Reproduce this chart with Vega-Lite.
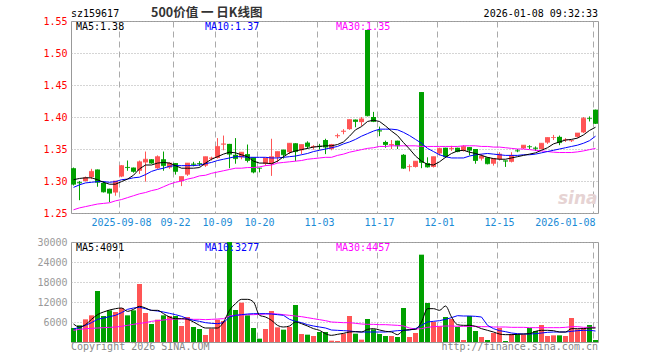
{
 "$schema": "https://vega.github.io/schema/vega-lite/v6.json",
 "background": "white",
 "padding": {"left": 36, "top": 6, "right": 0, "bottom": 0},
 "spacing": 8,
 "config": {
  "view": {"stroke": "#999999", "strokeWidth": 1},
  "axis": {"labelFont": "DejaVu Sans Mono", "labelFontSize": 10, "ticks": false, "domain": false, "title": null, "labelOverlap": false},
  "text": {"font": "DejaVu Sans Mono", "fontSize": 10}
 },
 "datasets": {
  "k": [
{"d":"2025-08-27","o":1.320,"h":1.321,"l":1.293,"c":1.295,"m5":1.302,"m10":1.290,"m30":1.255,"v":4200,"v5":5400,"v10":3900,"v30":3500},
{"d":"2025-08-28","o":1.298,"h":1.300,"l":1.270,"c":1.297,"m5":1.304,"m10":1.294,"m30":1.258,"v":5000,"v5":4500,"v10":4400,"v30":3800},
{"d":"2025-08-29","o":1.300,"h":1.307,"l":1.299,"c":1.305,"m5":1.305,"m10":1.297,"m30":1.260,"v":6800,"v5":5200,"v10":5000,"v30":4000},
{"d":"2025-09-01","o":1.306,"h":1.319,"l":1.303,"c":1.315,"m5":1.305,"m10":1.298,"m30":1.262,"v":8000,"v5":6800,"v10":5800,"v30":4100},
{"d":"2025-09-02","o":1.318,"h":1.318,"l":1.291,"c":1.298,"m5":1.302,"m10":1.299,"m30":1.264,"v":15300,"v5":8200,"v10":6800,"v30":4200},
{"d":"2025-09-03","o":1.297,"h":1.300,"l":1.282,"c":1.283,"m5":1.298,"m10":1.299,"m30":1.265,"v":7800,"v5":9000,"v10":7200,"v30":4300},
{"d":"2025-09-04","o":1.288,"h":1.288,"l":1.267,"c":1.281,"m5":1.295,"m10":1.298,"m30":1.266,"v":9500,"v5":9600,"v10":7600,"v30":4400},
{"d":"2025-09-05","o":1.282,"h":1.300,"l":1.277,"c":1.300,"m5":1.295,"m10":1.299,"m30":1.269,"v":9000,"v5":10000,"v10":8000,"v30":4500},
{"d":"2025-09-08","o":1.307,"h":1.325,"l":1.306,"c":1.324,"m5":1.299,"m10":1.302,"m30":1.271,"v":10200,"v5":10200,"v10":8800,"v30":4700},
{"d":"2025-09-09","o":1.322,"h":1.332,"l":1.316,"c":1.321,"m5":1.303,"m10":1.303,"m30":1.274,"v":8000,"v5":9200,"v10":9800,"v30":5000},
{"d":"2025-09-10","o":1.321,"h":1.321,"l":1.313,"c":1.315,"m5":1.309,"m10":1.305,"m30":1.277,"v":9500,"v5":9800,"v10":10200,"v30":5300},
{"d":"2025-09-11","o":1.316,"h":1.332,"l":1.311,"c":1.330,"m5":1.319,"m10":1.306,"m30":1.280,"v":17400,"v5":10700,"v10":10400,"v30":5600},
{"d":"2025-09-12","o":1.329,"h":1.346,"l":1.299,"c":1.334,"m5":1.325,"m10":1.310,"m30":1.282,"v":8700,"v5":10200,"v10":10000,"v30":5800},
{"d":"2025-09-15","o":1.334,"h":1.334,"l":1.327,"c":1.328,"m5":1.325,"m10":1.315,"m30":1.285,"v":5400,"v5":9500,"v10":9500,"v30":6200},
{"d":"2025-09-16","o":1.320,"h":1.340,"l":1.319,"c":1.338,"m5":1.328,"m10":1.318,"m30":1.287,"v":6700,"v5":9500,"v10":9300,"v30":6400},
{"d":"2025-09-17","o":1.334,"h":1.346,"l":1.316,"c":1.324,"m5":1.329,"m10":1.320,"m30":1.291,"v":8000,"v5":8500,"v10":9000,"v30":6600},
{"d":"2025-09-18","o":1.321,"h":1.329,"l":1.319,"c":1.328,"m5":1.328,"m10":1.323,"m30":1.295,"v":7800,"v5":7500,"v10":8600,"v30":6800},
{"d":"2025-09-22","o":1.328,"h":1.328,"l":1.310,"c":1.315,"m5":1.324,"m10":1.324,"m30":1.298,"v":7800,"v5":7000,"v10":8200,"v30":6900},
{"d":"2025-09-23","o":1.300,"h":1.307,"l":1.292,"c":1.307,"m5":1.320,"m10":1.324,"m30":1.300,"v":4800,"v5":7000,"v10":7700,"v30":6900},
{"d":"2025-09-24","o":1.310,"h":1.328,"l":1.308,"c":1.328,"m5":1.320,"m10":1.324,"m30":1.303,"v":7500,"v5":6800,"v10":7000,"v30":6900},
{"d":"2025-09-25","o":1.327,"h":1.330,"l":1.323,"c":1.326,"m5":1.320,"m10":1.324,"m30":1.305,"v":4500,"v5":6000,"v10":6500,"v30":6800},
{"d":"2025-09-26","o":1.328,"h":1.331,"l":1.323,"c":1.327,"m5":1.321,"m10":1.325,"m30":1.308,"v":3900,"v5":5000,"v10":6200,"v30":6800},
{"d":"2025-09-29","o":1.324,"h":1.338,"l":1.322,"c":1.338,"m5":1.328,"m10":1.327,"m30":1.309,"v":2100,"v5":4200,"v10":5800,"v30":6700},
{"d":"2025-09-30","o":1.335,"h":1.338,"l":1.332,"c":1.336,"m5":1.334,"m10":1.329,"m30":1.312,"v":4000,"v5":4200,"v10":5600,"v30":6800},
{"d":"2025-10-09","o":1.336,"h":1.367,"l":1.335,"c":1.354,"m5":1.338,"m10":1.332,"m30":1.314,"v":6700,"v5":4200,"v10":5500,"v30":6900},
{"d":"2025-10-10","o":1.357,"h":1.371,"l":1.348,"c":1.358,"m5":1.342,"m10":1.334,"m30":1.316,"v":6300,"v5":6000,"v10":5800,"v30":7000},
{"d":"2025-10-13","o":1.358,"h":1.358,"l":1.320,"c":1.342,"m5":1.345,"m10":1.336,"m30":1.318,"v":30000,"v5":9500,"v10":7500,"v30":7800},
{"d":"2025-10-14","o":1.341,"h":1.367,"l":1.327,"c":1.335,"m5":1.344,"m10":1.338,"m30":1.320,"v":9600,"v5":11500,"v10":8000,"v30":8000},
{"d":"2025-10-15","o":1.337,"h":1.345,"l":1.334,"c":1.345,"m5":1.341,"m10":1.338,"m30":1.320,"v":11800,"v5":12800,"v10":8200,"v30":8100},
{"d":"2025-10-16","o":1.342,"h":1.357,"l":1.329,"c":1.332,"m5":1.338,"m10":1.337,"m30":1.321,"v":8000,"v5":12800,"v10":8400,"v30":8200},
{"d":"2025-10-17","o":1.337,"h":1.337,"l":1.312,"c":1.314,"m5":1.331,"m10":1.337,"m30":1.321,"v":4200,"v5":12000,"v10":8500,"v30":8200},
{"d":"2025-10-20","o":1.3205,"h":1.3205,"l":1.3135,"c":1.320,"m5":1.328,"m10":1.337,"m30":1.322,"v":1000,"v5":8000,"v10":8500,"v30":8300},
{"d":"2025-10-21","o":1.327,"h":1.336,"l":1.324,"c":1.336,"m5":1.328,"m10":1.337,"m30":1.324,"v":3900,"v5":7500,"v10":8500,"v30":8400},
{"d":"2025-10-22","o":1.327,"h":1.366,"l":1.308,"c":1.338,"m5":1.327,"m10":1.336,"m30":1.325,"v":9300,"v5":6500,"v10":8400,"v30":8500},
{"d":"2025-10-23","o":1.337,"h":1.346,"l":1.329,"c":1.346,"m5":1.331,"m10":1.336,"m30":1.328,"v":4400,"v5":5000,"v10":8200,"v30":8400},
{"d":"2025-10-24","o":1.349,"h":1.349,"l":1.335,"c":1.341,"m5":1.338,"m10":1.337,"m30":1.329,"v":3700,"v5":4500,"v10":8000,"v30":8200},
{"d":"2025-10-27","o":1.345,"h":1.359,"l":1.342,"c":1.359,"m5":1.344,"m10":1.338,"m30":1.330,"v":4500,"v5":4800,"v10":6800,"v30":8000},
{"d":"2025-10-28","o":1.359,"h":1.359,"l":1.331,"c":1.346,"m5":1.347,"m10":1.339,"m30":1.331,"v":11100,"v5":6000,"v10":6200,"v30":7800},
{"d":"2025-10-29","o":1.348,"h":1.357,"l":1.342,"c":1.357,"m5":1.349,"m10":1.341,"m30":1.332,"v":2400,"v5":5500,"v10":5800,"v30":7600},
{"d":"2025-10-30","o":1.360,"h":1.362,"l":1.350,"c":1.354,"m5":1.351,"m10":1.343,"m30":1.334,"v":2200,"v5":4800,"v10":5200,"v30":7300},
{"d":"2025-10-31","o":1.353,"h":1.356,"l":1.349,"c":1.354,"m5":1.353,"m10":1.346,"m30":1.335,"v":1800,"v5":4000,"v10":4800,"v30":7000},
{"d":"2025-11-03","o":1.355,"h":1.358,"l":1.349,"c":1.354,"m5":1.354,"m10":1.348,"m30":1.336,"v":3000,"v5":3500,"v10":4500,"v30":6700},
{"d":"2025-11-04","o":1.364,"h":1.366,"l":1.342,"c":1.353,"m5":1.355,"m10":1.350,"m30":1.337,"v":3000,"v5":2500,"v10":4200,"v30":6400},
{"d":"2025-11-05","o":1.350,"h":1.358,"l":1.348,"c":1.357,"m5":1.355,"m10":1.352,"m30":1.337,"v":400,"v5":2000,"v10":3600,"v30":6000},
{"d":"2025-11-06","o":1.370,"h":1.374,"l":1.367,"c":1.371,"m5":1.357,"m10":1.354,"m30":1.340,"v":300,"v5":2300,"v10":3500,"v30":5900},
{"d":"2025-11-07","o":1.377,"h":1.381,"l":1.373,"c":1.378,"m5":1.361,"m10":1.358,"m30":1.342,"v":2500,"v5":2600,"v10":3400,"v30":5800},
{"d":"2025-11-10","o":1.381,"h":1.396,"l":1.380,"c":1.396,"m5":1.370,"m10":1.361,"m30":1.345,"v":7800,"v5":3000,"v10":3300,"v30":5800},
{"d":"2025-11-11","o":1.396,"h":1.396,"l":1.384,"c":1.393,"m5":1.380,"m10":1.365,"m30":1.347,"v":2500,"v5":3100,"v10":3100,"v30":5600},
{"d":"2025-11-12","o":1.392,"h":1.400,"l":1.386,"c":1.397,"m5":1.385,"m10":1.370,"m30":1.349,"v":700,"v5":3000,"v10":3000,"v30":5400},
{"d":"2025-11-13","o":1.536,"h":1.536,"l":1.401,"c":1.402,"m5":1.393,"m10":1.374,"m30":1.351,"v":6900,"v5":3800,"v10":3000,"v30":5300},
{"d":"2025-11-14","o":1.400,"h":1.408,"l":1.392,"c":1.393,"m5":1.395,"m10":1.378,"m30":1.352,"v":3800,"v5":4000,"v10":3000,"v30":5300},
{"d":"2025-11-17","o":1.379,"h":1.385,"l":1.370,"c":1.378,"m5":1.393,"m10":1.381,"m30":1.354,"v":2400,"v5":3600,"v10":3000,"v30":5200},
{"d":"2025-11-18","o":1.361,"h":1.363,"l":1.352,"c":1.357,"m5":1.386,"m10":1.381,"m30":1.354,"v":1800,"v5":3200,"v10":3000,"v30":5200},
{"d":"2025-11-19","o":1.356,"h":1.364,"l":1.350,"c":1.357,"m5":1.378,"m10":1.381,"m30":1.355,"v":1800,"v5":3000,"v10":3200,"v30":5100},
{"d":"2025-11-20","o":1.363,"h":1.363,"l":1.350,"c":1.355,"m5":1.371,"m10":1.380,"m30":1.355,"v":1500,"v5":2200,"v10":3400,"v30":5000},
{"d":"2025-11-21","o":1.341,"h":1.342,"l":1.319,"c":1.320,"m5":1.360,"m10":1.376,"m30":1.355,"v":10200,"v5":3500,"v10":3500,"v30":4800},
{"d":"2025-11-24","o":1.322,"h":1.326,"l":1.315,"c":1.3225,"m5":1.350,"m10":1.371,"m30":1.355,"v":1500,"v5":3700,"v10":3600,"v30":4200},
{"d":"2025-11-25","o":1.322,"h":1.331,"l":1.321,"c":1.331,"m5":1.339,"m10":1.365,"m30":1.355,"v":2700,"v5":3800,"v10":4000,"v30":3900},
{"d":"2025-11-26","o":1.439,"h":1.439,"l":1.320,"c":1.329,"m5":1.331,"m10":1.359,"m30":1.354,"v":26200,"v5":6000,"v10":5000,"v30":4000},
{"d":"2025-11-27","o":1.328,"h":1.337,"l":1.321,"c":1.322,"m5":1.326,"m10":1.351,"m30":1.354,"v":11700,"v5":10000,"v10":6000,"v30":4400},
{"d":"2025-11-28","o":1.322,"h":1.338,"l":1.321,"c":1.338,"m5":1.325,"m10":1.346,"m30":1.354,"v":6000,"v5":10000,"v10":6200,"v30":4600},
{"d":"2025-12-01","o":1.343,"h":1.352,"l":1.340,"c":1.351,"m5":1.330,"m10":1.341,"m30":1.354,"v":4700,"v5":9500,"v10":6400,"v30":4700},
{"d":"2025-12-02","o":1.352,"h":1.352,"l":1.336,"c":1.338,"m5":1.337,"m10":1.338,"m30":1.354,"v":7500,"v5":10800,"v10":6800,"v30":4800},
{"d":"2025-12-03","o":1.350,"h":1.355,"l":1.347,"c":1.351,"m5":1.343,"m10":1.336,"m30":1.354,"v":6900,"v5":7500,"v10":7300,"v30":4800},
{"d":"2025-12-04","o":1.352,"h":1.352,"l":1.345,"c":1.346,"m5":1.347,"m10":1.336,"m30":1.354,"v":4500,"v5":5200,"v10":7900,"v30":4700},
{"d":"2025-12-05","o":1.347,"h":1.356,"l":1.346,"c":1.354,"m5":1.348,"m10":1.336,"m30":1.355,"v":600,"v5":5000,"v10":7800,"v30":4700},
{"d":"2025-12-08","o":1.353,"h":1.353,"l":1.340,"c":1.348,"m5":1.345,"m10":1.339,"m30":1.355,"v":7800,"v5":5000,"v10":7800,"v30":4700},
{"d":"2025-12-09","o":1.350,"h":1.350,"l":1.327,"c":1.332,"m5":1.343,"m10":1.341,"m30":1.355,"v":3300,"v5":4700,"v10":7700,"v30":4700},
{"d":"2025-12-10","o":1.335,"h":1.342,"l":1.332,"c":1.339,"m5":1.340,"m10":1.342,"m30":1.354,"v":1500,"v5":4000,"v10":7500,"v30":4600},
{"d":"2025-12-11","o":1.337,"h":1.337,"l":1.326,"c":1.327,"m5":1.337,"m10":1.343,"m30":1.354,"v":600,"v5":3500,"v10":5000,"v30":4600},
{"d":"2025-12-12","o":1.327,"h":1.335,"l":1.324,"c":1.335,"m5":1.335,"m10":1.342,"m30":1.353,"v":2700,"v5":3000,"v10":4000,"v30":4500},
{"d":"2025-12-15","o":1.334,"h":1.345,"l":1.332,"c":1.342,"m5":1.334,"m10":1.341,"m30":1.353,"v":4200,"v5":2400,"v10":3400,"v30":4500},
{"d":"2025-12-16","o":1.332,"h":1.332,"l":1.322,"c":1.331,"m5":1.334,"m10":1.340,"m30":1.352,"v":300,"v5":2200,"v10":3100,"v30":4500},
{"d":"2025-12-17","o":1.330,"h":1.345,"l":1.329,"c":1.340,"m5":1.336,"m10":1.340,"m30":1.351,"v":2400,"v5":2200,"v10":2700,"v30":4400},
{"d":"2025-12-18","o":1.3475,"h":1.350,"l":1.345,"c":1.347,"m5":1.338,"m10":1.340,"m30":1.350,"v":2300,"v5":2300,"v10":2500,"v30":4400},
{"d":"2025-12-19","o":1.351,"h":1.356,"l":1.350,"c":1.356,"m5":1.340,"m10":1.341,"m30":1.350,"v":2300,"v5":2400,"v10":2400,"v30":4400},
{"d":"2025-12-22","o":1.354,"h":1.356,"l":1.350,"c":1.3535,"m5":1.342,"m10":1.341,"m30":1.349,"v":4200,"v5":2500,"v10":2400,"v30":4300},
{"d":"2025-12-23","o":1.352,"h":1.354,"l":1.347,"c":1.351,"m5":1.344,"m10":1.342,"m30":1.348,"v":3300,"v5":3200,"v10":2500,"v30":4300},
{"d":"2025-12-24","o":1.350,"h":1.359,"l":1.349,"c":1.359,"m5":1.348,"m10":1.344,"m30":1.347,"v":5100,"v5":3500,"v10":2700,"v30":4300},
{"d":"2025-12-25","o":1.360,"h":1.368,"l":1.358,"c":1.368,"m5":1.352,"m10":1.346,"m30":1.346,"v":1800,"v5":3500,"v10":2900,"v30":4300},
{"d":"2025-12-26","o":1.3675,"h":1.372,"l":1.364,"c":1.368,"m5":1.358,"m10":1.348,"m30":1.345,"v":2000,"v5":3400,"v10":3000,"v30":4300},
{"d":"2025-12-29","o":1.369,"h":1.371,"l":1.356,"c":1.360,"m5":1.361,"m10":1.350,"m30":1.3445,"v":2000,"v5":3000,"v10":3000,"v30":4300},
{"d":"2025-12-30","o":1.364,"h":1.367,"l":1.361,"c":1.3645,"m5":1.364,"m10":1.352,"m30":1.3445,"v":1800,"v5":3000,"v10":3000,"v30":4400},
{"d":"2025-12-31","o":1.3625,"h":1.364,"l":1.361,"c":1.363,"m5":1.365,"m10":1.354,"m30":1.3445,"v":7200,"v5":4000,"v10":3200,"v30":4600},
{"d":"2026-01-05","o":1.369,"h":1.375,"l":1.3675,"c":1.375,"m5":1.367,"m10":1.356,"m30":1.3455,"v":3800,"v5":4000,"v10":3400,"v30":4600},
{"d":"2026-01-06","o":1.376,"h":1.400,"l":1.375,"c":1.398,"m5":1.372,"m10":1.359,"m30":1.347,"v":4200,"v5":4000,"v10":3500,"v30":4400},
{"d":"2026-01-07","o":1.398,"h":1.401,"l":1.393,"c":1.3975,"m5":1.379,"m10":1.363,"m30":1.349,"v":5100,"v5":4200,"v10":3500,"v30":4400},
{"d":"2026-01-08","o":1.4115,"h":1.4115,"l":1.389,"c":1.390,"m5":1.384,"m10":1.370,"m30":1.351,"v":600,"v5":4200,"v10":3300,"v30":4400}
  ]
 },
 "vconcat": [
  {
   "width": 527,
   "height": 192,
   "data": {"name": "k"},
   "encoding": {
    "x": {
     "field": "d", "type": "ordinal",
     "scale": {"type": "band", "paddingInner": 0.16667, "paddingOuter": 0},
     "axis": {
      "values": ["2025-09-08","2025-09-22","2025-10-09","2025-10-20","2025-11-03","2025-11-17","2025-12-01","2025-12-15","2026-01-08"],
      "labelExpr": "datum.value == '2025-09-08' || datum.value == '2026-01-08' ? datum.value : slice(datum.value, 5)",
      "bandPosition": 0, "labelAngle": 0, "labelColor": "#1b8bd6", "labelPadding": 4, "labelFlush": 8, "labelOverlap": false,
      "grid": true, "gridColor": "#aaaaaa", "gridDash": [6, 4]
     }
    }
   },
   "layer": [
    {
     "mark": {"type": "rule", "strokeWidth": 1},
     "encoding": {
      "y": {"field": "l", "type": "quantitative",
       "scale": {"domain": [1.25, 1.55], "zero": false, "nice": false},
       "axis": {"values": [1.25, 1.3, 1.35, 1.4, 1.45, 1.5, 1.55], "tickCount": 20, "format": ".2f", "labelColor": "#ff0000", "labelPadding": 4,
        "labelOverlap": false, "labelBound": false, "grid": true, "gridColor": "#aaaaaa", "gridDash": [1, 2]}},
      "y2": {"field": "h"},
      "color": {"condition": {"test": "datum.c >= datum.o", "value": "#ff5555"}, "value": "#00a000"}
     }
    },
    {
     "mark": {"type": "bar"},
     "encoding": {
      "y": {"field": "o", "type": "quantitative"},
      "y2": {"field": "c"},
      "color": {"condition": {"test": "datum.c >= datum.o", "value": "#ff5555"}, "value": "#00a000"}
     }
    },
    {
     "mark": {"type": "tick", "thickness": 1, "size": 5},
     "encoding": {
      "y": {"field": "c", "type": "quantitative"},
      "color": {"condition": {"test": "datum.c >= datum.o", "value": "#ff5555"}, "value": "#00a000"}
     }
    },
    {"mark": {"type": "line", "color": "#ff00ff", "strokeWidth": 1}, "encoding": {"y": {"field": "m30", "type": "quantitative"}}},
    {"mark": {"type": "line", "color": "#0000ff", "strokeWidth": 1}, "encoding": {"y": {"field": "m10", "type": "quantitative"}}},
    {"mark": {"type": "line", "color": "#000000", "strokeWidth": 1}, "encoding": {"y": {"field": "m5", "type": "quantitative"}}},
    {"data": {"values": [{}]}, "mark": {"type": "text", "text": "sina", "font": "DejaVu Sans", "fontSize": 17, "fontStyle": "italic", "fontWeight": "bold", "color": "#e6d3d3", "align": "right", "baseline": "middle", "dx": 2},
     "encoding": {"x": {"datum": "2026-01-08", "type": "ordinal"}, "y": {"datum": 1.272}}},
    {"data": {"values": [{}]}, "mark": {"type": "text", "text": "sz159617", "align": "left", "baseline": "middle", "dy": -7, "color": "#000000"},
     "encoding": {"x": {"datum": "2025-08-27", "type": "ordinal", "bandPosition": 0}, "y": {"datum": 1.55}}},
    {"data": {"values": [{}]}, "mark": {"type": "text", "text": "500价值 一 日K线图", "font": "Noto Sans CJK SC", "fontSize": 12.5, "fontWeight": "bold", "align": "left", "baseline": "middle", "dx": 2, "dy": -8, "color": "#333333"},
     "encoding": {"x": {"datum": "2025-09-15", "type": "ordinal", "bandPosition": 0}, "y": {"datum": 1.55}}},
    {"data": {"values": [{}]}, "mark": {"type": "text", "text": "2026-01-08 09:32:33", "align": "right", "baseline": "middle", "dx": 2.5, "dy": -7, "color": "#000000"},
     "encoding": {"x": {"datum": "2026-01-08", "type": "ordinal"}, "y": {"datum": 1.55}}},
    {"data": {"values": [{}]}, "mark": {"type": "text", "text": "MA5:1.38", "align": "left", "baseline": "middle", "dx": 5, "dy": 6, "color": "#000000"},
     "encoding": {"x": {"datum": "2025-08-27", "type": "ordinal", "bandPosition": 0}, "y": {"datum": 1.55}}},
    {"data": {"values": [{}]}, "mark": {"type": "text", "text": "MA10:1.37", "align": "left", "baseline": "middle", "dx": 2, "dy": 6, "color": "#0000ff"},
     "encoding": {"x": {"datum": "2025-09-29", "type": "ordinal", "bandPosition": 0}, "y": {"datum": 1.55}}},
    {"data": {"values": [{}]}, "mark": {"type": "text", "text": "MA30:1.35", "align": "left", "baseline": "middle", "dx": 1, "dy": 6, "color": "#ff00ff"},
     "encoding": {"x": {"datum": "2025-11-06", "type": "ordinal", "bandPosition": 0}, "y": {"datum": 1.55}}}
   ]
  },
  {
   "width": 527,
   "height": 100,
   "data": {"name": "k"},
   "encoding": {
    "x": {
     "field": "d", "type": "ordinal",
     "scale": {"type": "band", "paddingInner": 0.16667, "paddingOuter": 0},
     "axis": {
      "values": ["2025-09-08","2025-09-22","2025-10-09","2025-10-20","2025-11-03","2025-11-17","2025-12-01","2025-12-15","2026-01-08"],
      "bandPosition": 0, "labels": false, "grid": true, "gridColor": "#aaaaaa", "gridDash": [6, 4]
     }
    }
   },
   "layer": [
    {
     "mark": {"type": "bar"},
     "encoding": {
      "y": {"field": "v", "type": "quantitative",
       "scale": {"domain": [0, 30000], "nice": false},
       "axis": {"values": [6000, 12000, 18000, 24000, 30000], "tickCount": 20, "format": "d", "labelColor": "#999999", "labelPadding": 4,
        "labelOverlap": false, "labelBound": false, "grid": true, "gridColor": "#aaaaaa", "gridDash": [1, 2]}},
      "color": {"condition": {"test": "datum.c >= datum.o", "value": "#ff5555"}, "value": "#00a000"}
     }
    },
    {"mark": {"type": "line", "color": "#ff00ff", "strokeWidth": 1}, "encoding": {"y": {"field": "v30", "type": "quantitative"}}},
    {"mark": {"type": "line", "color": "#0000ff", "strokeWidth": 1}, "encoding": {"y": {"field": "v10", "type": "quantitative"}}},
    {"mark": {"type": "line", "color": "#000000", "strokeWidth": 1, "interpolate": "monotone"}, "encoding": {"y": {"field": "v5", "type": "quantitative"}}},
    {"data": {"values": [{}]}, "mark": {"type": "text", "text": "MA5:4091", "align": "left", "baseline": "middle", "dx": 5, "dy": 6, "color": "#000000"},
     "encoding": {"x": {"datum": "2025-08-27", "type": "ordinal", "bandPosition": 0}, "y": {"datum": 30000}}},
    {"data": {"values": [{}]}, "mark": {"type": "text", "text": "MA10:3277", "align": "left", "baseline": "middle", "dx": 2, "dy": 6, "color": "#0000ff"},
     "encoding": {"x": {"datum": "2025-09-29", "type": "ordinal", "bandPosition": 0}, "y": {"datum": 30000}}},
    {"data": {"values": [{}]}, "mark": {"type": "text", "text": "MA30:4457", "align": "left", "baseline": "middle", "dx": 1, "dy": 6, "color": "#ff00ff"},
     "encoding": {"x": {"datum": "2025-11-06", "type": "ordinal", "bandPosition": 0}, "y": {"datum": 30000}}},
    {"data": {"values": [{}]}, "mark": {"type": "text", "text": "Copyright 2026 SINA.COM", "align": "left", "baseline": "middle", "dy": 5, "color": "#888888"},
     "encoding": {"x": {"datum": "2025-08-27", "type": "ordinal", "bandPosition": 0}, "y": {"datum": 0}}},
    {"data": {"values": [{}]}, "mark": {"type": "text", "text": "http://finance.sina.com.cn", "align": "right", "baseline": "middle", "dx": 2.5, "dy": 5, "color": "#888888"},
     "encoding": {"x": {"datum": "2026-01-08", "type": "ordinal"}, "y": {"datum": 0}}}
   ]
  }
 ]
}
